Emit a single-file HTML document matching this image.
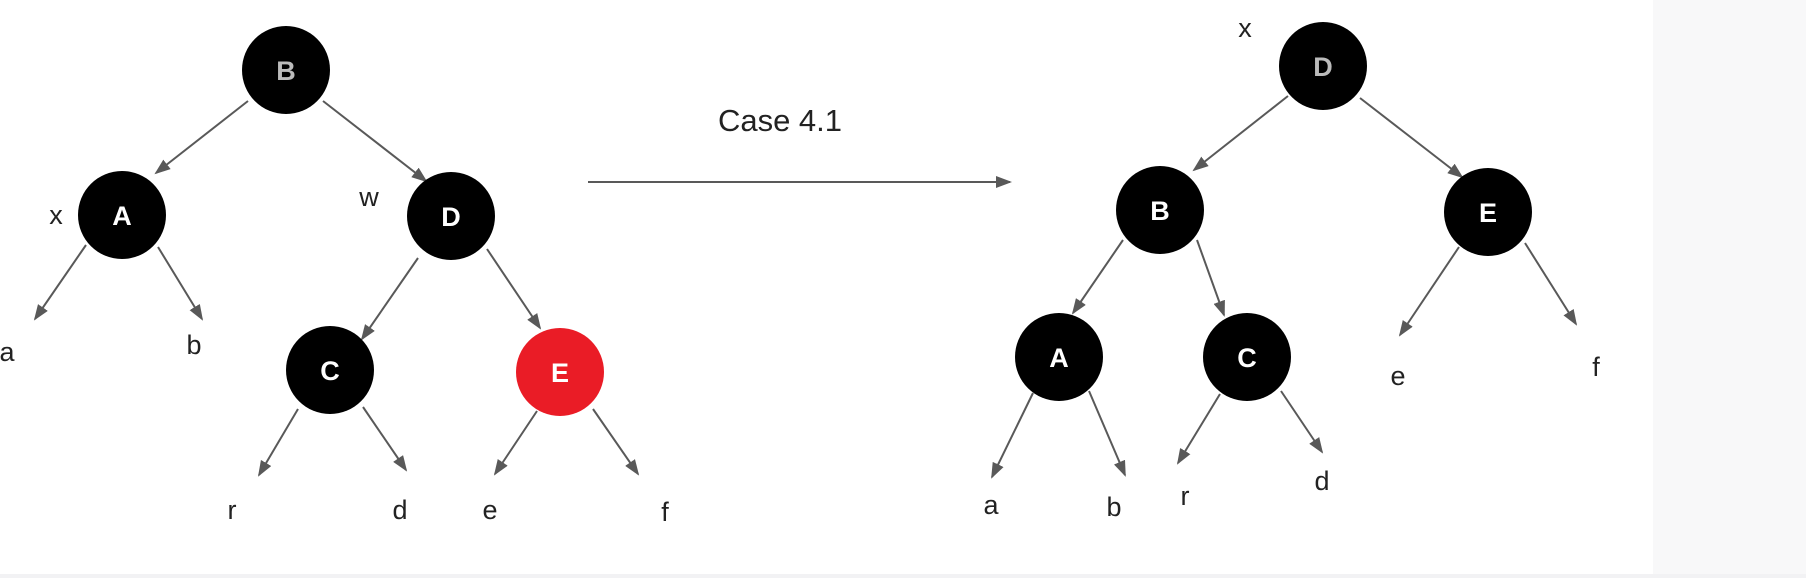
<!DOCTYPE html>
<html><head><meta charset="utf-8"><style>
html,body{margin:0;padding:0;background:#fff;}
svg{display:block;}
</style></head><body>
<svg width="1806" height="578" viewBox="0 0 1806 578" xmlns="http://www.w3.org/2000/svg">
<defs>
<marker id="ah" markerWidth="16" markerHeight="12" refX="14" refY="6" orient="auto" markerUnits="userSpaceOnUse">
<path d="M0,0 L16,6 L0,12 Z" fill="#595959"/>
</marker>
</defs>
<rect x="0" y="0" width="1806" height="578" fill="#fff"/>
<rect x="1653" y="0" width="153" height="578" fill="#f8f8f9"/>
<rect x="0" y="574" width="1806" height="4" fill="#f2f2f4"/>
<g stroke="#595959" stroke-width="2" fill="none" marker-end="url(#ah)">
<line x1="248" y1="101" x2="156" y2="173"/>
<line x1="323" y1="101" x2="426" y2="181"/>
<line x1="86" y1="245" x2="35" y2="319"/>
<line x1="158" y1="247" x2="202" y2="319"/>
<line x1="418" y1="258" x2="362" y2="339"/>
<line x1="487" y1="249" x2="540" y2="328"/>
<line x1="298" y1="409" x2="259" y2="475"/>
<line x1="363" y1="407" x2="406" y2="470"/>
<line x1="537" y1="411" x2="495" y2="474"/>
<line x1="593" y1="409" x2="638" y2="474"/>
<line x1="588" y1="182" x2="1010" y2="182"/>
<line x1="1288" y1="96" x2="1194" y2="170"/>
<line x1="1360" y1="98" x2="1462" y2="177"/>
<line x1="1123" y1="240" x2="1073" y2="313"/>
<line x1="1197" y1="240" x2="1224" y2="315"/>
<line x1="1459" y1="247" x2="1400" y2="335"/>
<line x1="1525" y1="243" x2="1576" y2="324"/>
<line x1="1033" y1="393" x2="992" y2="477"/>
<line x1="1089" y1="391" x2="1125" y2="475"/>
<line x1="1220" y1="394" x2="1178" y2="463"/>
<line x1="1281" y1="391" x2="1322" y2="452"/>
</g>
<g font-family="Liberation Sans, sans-serif" font-weight="bold" font-size="27" text-anchor="middle" fill="#fff">
<circle cx="286" cy="70" r="44" fill="#000"/><text x="286" y="80" fill="#bbb">B</text>
<circle cx="122" cy="215" r="44" fill="#000"/><text x="122" y="225">A</text>
<circle cx="451" cy="216" r="44" fill="#000"/><text x="451" y="226">D</text>
<circle cx="330" cy="370" r="44" fill="#000"/><text x="330" y="380">C</text>
<circle cx="560" cy="372" r="44" fill="#ea1c26"/><text x="560" y="382">E</text>
<circle cx="1323" cy="66" r="44" fill="#000"/><text x="1323" y="76" fill="#bbb">D</text>
<circle cx="1160" cy="210" r="44" fill="#000"/><text x="1160" y="220">B</text>
<circle cx="1488" cy="212" r="44" fill="#000"/><text x="1488" y="222">E</text>
<circle cx="1059" cy="357" r="44" fill="#000"/><text x="1059" y="367">A</text>
<circle cx="1247" cy="357" r="44" fill="#000"/><text x="1247" y="367">C</text>
</g>
<g font-family="Liberation Sans, sans-serif" font-size="27" text-anchor="middle" fill="#222">
<text x="56" y="224">x</text>
<text x="369" y="206">w</text>
<text x="7" y="361">a</text>
<text x="194" y="354">b</text>
<text x="232" y="519">r</text>
<text x="400" y="519">d</text>
<text x="490" y="519">e</text>
<text x="665" y="521">f</text>
<text x="1245" y="37">x</text>
<text x="1398" y="385">e</text>
<text x="1596" y="376">f</text>
<text x="991" y="514">a</text>
<text x="1114" y="516">b</text>
<text x="1185" y="505">r</text>
<text x="1322" y="490">d</text>
<text x="780" y="131" font-size="31">Case 4.1</text>
</g>
</svg>
</body></html>
